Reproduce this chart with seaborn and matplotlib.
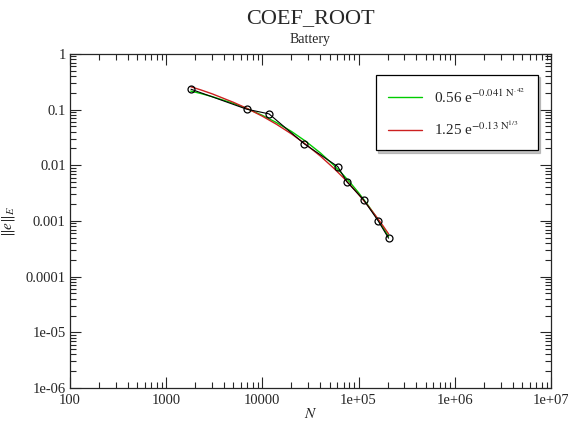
import numpy as np
import pandas as pd
import matplotlib
matplotlib.use('Agg')
import matplotlib.pyplot as plt
import seaborn as sns
from matplotlib.ticker import LogLocator, NullFormatter

# ------------------------
# Data
# ------------------------

n_points = [1811, 6870, 11720, 27300, 60700, 75700, 113000, 160000, 205000]
err_points = [0.232, 0.1016, 0.0837, 0.0242, 0.00948, 0.00504, 0.00239, 0.001, 0.00049]

n_fit = [1800, 2300, 3000, 5000, 7000, 10000, 14000, 20000, 28000, 40000,
         55000, 70000, 85000, 100000, 125000, 150000, 180000, 205000]
green_fit = [0.215, 0.194, 0.171, 0.129, 0.1034, 0.0787, 0.0585, 0.0406, 0.0272, 0.0167,
             0.0101, 0.00658, 0.00451, 0.00321, 0.00193, 0.00123, 0.000758, 0.000522]
red_fit = [0.257, 0.225, 0.192, 0.135, 0.104, 0.076, 0.0545, 0.0367, 0.0241, 0.01466,
           0.00891, 0.0059, 0.00412, 0.00299, 0.00188, 0.00125, 0.000811, 0.000585]

x_ticks = [1e2, 1e3, 1e4, 1e5, 1e6, 1e7]
x_labels = ['100', '1000', '10000', '1e+05', '1e+06', '1e+07']
y_ticks = [1e-6, 1e-5, 1e-4, 1e-3, 1e-2, 1e-1, 1]
y_labels = ['1e-06', '1e-05', '0.0001', '0.001', '0.01', '0.1', '1']

# ------------------------
# Plot
# ------------------------

sns.set_style('ticks')
plt.rcParams['font.family'] = ['Liberation Serif', 'DejaVu Serif']
plt.rcParams['mathtext.fontset'] = 'stix'

fig = plt.figure(figsize=(5.68, 4.21), dpi=100)
ax = fig.add_axes([0.1232, 0.0784, 0.8468, 0.7936])

pts = pd.DataFrame({'N': n_points, 'err': err_points})
fits = pd.DataFrame({'N': n_fit, 'green': green_fit, 'red': red_fit})

sns.lineplot(data=fits, x='N', y='green', color='#00cc00', lw=1.0, ax=ax,
             label=r'0.56 e$^{-0.041\ \mathrm{N}^{.42}}$')
sns.lineplot(data=fits, x='N', y='red', color='#cc2020', lw=1.0, ax=ax,
             label=r'1.25 e$^{-0.13\ \mathrm{N}^{1/3}}$')
sns.lineplot(data=pts, x='N', y='err', color='black', lw=0.8, ax=ax,
             marker='o', markersize=5, markerfacecolor='none',
             markeredgecolor='black', markeredgewidth=0.9, legend=False)

ax.set_xscale('log')
ax.set_yscale('log')
ax.set_xlim(1e2, 1e7)
ax.set_ylim(1e-6, 1)
ax.set_xticks(x_ticks, x_labels)
ax.set_yticks(y_ticks, y_labels)
ax.xaxis.set_minor_locator(LogLocator(base=10, subs=np.arange(2, 10), numticks=20))
ax.yaxis.set_minor_locator(LogLocator(base=10, subs=np.arange(2, 10), numticks=20))
ax.xaxis.set_minor_formatter(NullFormatter())
ax.yaxis.set_minor_formatter(NullFormatter())
ax.tick_params(which='both', direction='in', top=True, right=True, labelsize=10.5, width=0.8)
ax.tick_params(which='major', length=8)
ax.tick_params(axis='x', which='major', pad=4)
ax.tick_params(axis='y', which='major', pad=3)
ax.tick_params(which='minor', length=4)
for s in ax.spines.values():
    s.set_linewidth(0.9)

ax.set_xlabel(r'$N$', fontsize=11, labelpad=0)
ax.set_ylabel(r'$\Vert e\Vert_{E}$', fontsize=11, labelpad=6)

fig.text(0.546, 0.955, 'COEF_ROOT', ha='center', va='center', fontsize=16)
fig.text(0.546, 0.905, 'Battery', ha='center', va='center', fontsize=10)

leg = ax.legend(loc='upper right', bbox_to_anchor=(0.973, 0.937), borderaxespad=0,
                fontsize=11, frameon=True, fancybox=False,
                shadow={'ox': 1.5, 'oy': -1.5, 'color': '0.55'},
                handlelength=2.2, labelspacing=0.9, borderpad=0.8)
leg.get_frame().set_edgecolor('black')
leg.get_frame().set_linewidth(0.9)

fig.savefig('out.png', dpi=100)
